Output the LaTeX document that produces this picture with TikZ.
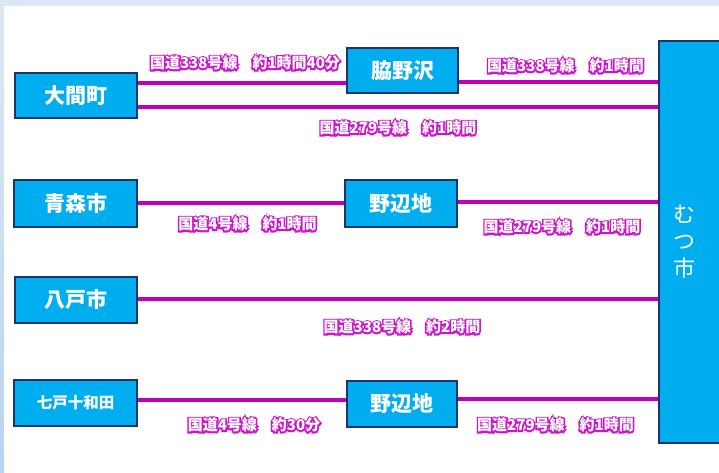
\documentclass[tikz,border=0pt]{standalone}
\usepackage{fontspec}
\newfontfamily\jp{Noto Sans CJK JP}
\newfontfamily\jpglow{Noto Sans CJK JP}[UprightFeatures={FakeBold=20}, BoldFeatures={FakeBold=20}]
\definecolor{boxfill}{RGB}{0,174,239}
\definecolor{boxline}{RGB}{28,52,110}
\definecolor{roadc}{RGB}{190,0,190}
\definecolor{glowmag}{RGB}{205,20,205}
\definecolor{bgtop}{RGB}{222,232,244}
\definecolor{bgbot}{RGB}{184,212,238}
\newcommand\glowtxt[1]{%
  \rlap{\color{glowmag}\jpglow\bfseries #1}{\color{white}#1}}
\begin{document}
\begin{tikzpicture}[x=1pt,y=-1pt,
  place/.style={draw=boxline, line width=1.8pt, fill=boxfill, text=white,
    font=\jp\bfseries\fontsize{21}{24}\selectfont, inner sep=0pt},
  road/.style={draw=roadc, line width=3.2pt},
  lab/.style={inner sep=0pt, font=\jp\bfseries\fontsize{15}{17}\selectfont}]
\useasboundingbox (0,0) rectangle (719,473);
% background
\shade[top color=bgtop, bottom color=bgbot] (0,0) rectangle (719,473);
\fill[bgtop] (0,0) rectangle (719,6);
\fill[white] (4,6) rectangle (719,473);
% places
\node[place, minimum width=122pt, minimum height=45pt] (oma) at (76,95.5) {大間町};
\node[place, minimum width=111pt, minimum height=45pt] (wak) at (402.5,70.5) {脇野沢};
\node[place, minimum width=123pt, minimum height=47pt] (aom) at (75.5,203.5) {青森市};
\node[place, minimum width=112pt, minimum height=47pt] (noh1) at (401,203.5) {野辺地};
\node[place, minimum width=122pt, minimum height=46pt] (hach) at (76,300) {八戸市};
\node[place, minimum width=123pt, minimum height=46pt, font=\jp\bfseries\fontsize{15.5}{18}\selectfont] (shichi) at (75.5,403) {七戸十和田};
\node[place, minimum width=110pt, minimum height=46pt] (noh2) at (402,404) {野辺地};
\node[place, minimum width=70pt, minimum height=402pt, anchor=north west] (mutsu) at (658,40) {};
\node[text=white, align=center, inner sep=0pt, font=\jp\fontsize{22}{27}\selectfont] (mutsut) at (684,242) {む\\つ\\市};
% roads
\draw[road] (oma.east |- 0,83) -- (wak.west |- 0,83);
\draw[road] (oma.east |- 0,107) -- (mutsu.west |- 0,107);
\draw[road] (wak.east |- 0,82) -- (mutsu.west |- 0,82);
\draw[road] (aom.east |- 0,203) -- (noh1.west |- 0,203);
\draw[road] (noh1.east |- 0,202) -- (mutsu.west |- 0,202);
\draw[road] (hach.east |- 0,299) -- (mutsu.west |- 0,299);
\draw[road] (shichi.east |- 0,400) -- (noh2.west |- 0,400);
\draw[road] (noh2.east |- 0,399) -- (mutsu.west |- 0,399);
% labels
\node[lab] (l1) at (245,63) {\glowtxt{国道338号線　約1時間40分}};
\node[lab] (l2) at (565.5,66) {\glowtxt{国道338号線　約1時間}};
\node[lab] (l3) at (398,128) {\glowtxt{国道279号線　約1時間}};
\node[lab] (l4) at (247.5,224) {\glowtxt{国道4号線　約1時間}};
\node[lab] (l5) at (562,227) {\glowtxt{国道279号線　約1時間}};
\node[lab] (l6) at (402,327) {\glowtxt{国道338号線　約2時間}};
\node[lab] (l7) at (254,425) {\glowtxt{国道4号線　約30分}};
\node[lab] (l8) at (555.5,425) {\glowtxt{国道279号線　約1時間}};
\end{tikzpicture}
\end{document}
